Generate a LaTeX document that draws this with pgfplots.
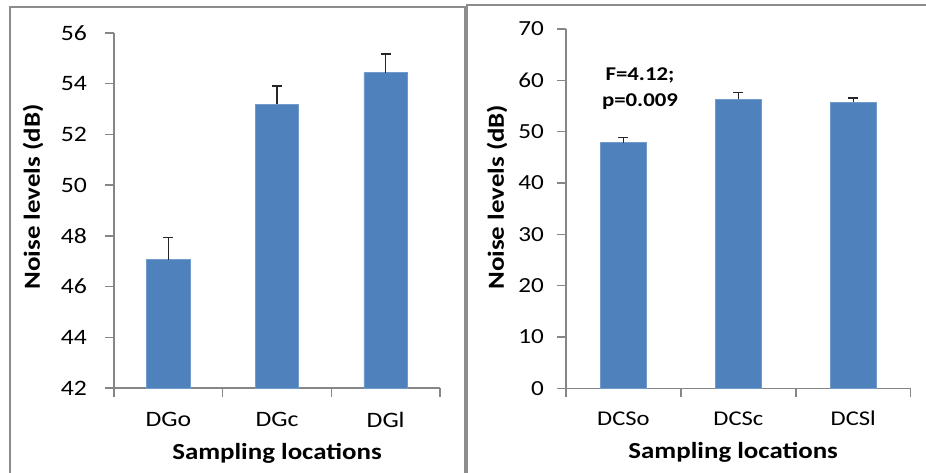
\documentclass[border=0pt]{standalone}
\usepackage{pgfplots}
\pgfplotsset{compat=1.18}
\usepackage{fontspec}
\setmainfont{Carlito}[FakeStretch=1.17]
\definecolor{barblue}{HTML}{4F81BD}
\definecolor{axisgray}{HTML}{868686}
\definecolor{framegray}{HTML}{8C8C8C}

\pgfplotsset{noiseaxis/.style={
  scale only axis, ybar, bar width=0.4,
  xmin=-0.5, xmax=2.5, enlargelimits=false,
  axis x line*=bottom, axis y line*=left,
  axis line style={draw=axisgray, line width=0.7pt},
  tick style={draw=axisgray, line width=0.7pt},
  tick align=outside, major tick length=4.5pt,
  xtick={-0.5,0.5,1.5,2.5}, xticklabels={},
  extra x ticks={0,1,2},
  /pgf/number format/assume math mode=true,
  label style={font=\bfseries\fontsize{11.5}{13}\selectfont},
  ylabel={Noise levels (dB)}, xlabel={Sampling locations},
  error bars/y dir=plus, error bars/y explicit,
  error bars/error bar style={line width=0.75pt, black!85},
  error bars/error mark options={rotate=90, mark size=2.5pt, line width=0.75pt, black!85},
}}

\begin{document}
\begin{tikzpicture}
\path[use as bounding box] (0,0) rectangle (463pt,-236pt);
\clip (0,0) rectangle (463pt,-236pt);
% panel frames
\draw[framegray, line width=0.6pt] (5pt,-240pt) -- (5pt,-3.5pt) -- (232.5pt,-3.5pt) -- (232.5pt,-240pt);
\draw[framegray, line width=0.6pt] (233.5pt,-240pt) -- (233.5pt,-2.5pt) -- (470pt,-2.5pt);

% left panel
\begin{axis}[noiseaxis,
  at={(57pt,-194pt)}, anchor=south west,
  width=163pt, height=177.5pt,
  ymin=42, ymax=56, ytick={42,44,...,56},
  yticklabel style={xshift=-5.5pt, font=\fontsize{11}{12}\selectfont},
  extra x tick labels={DGo,DGc,DGl},
  extra x tick style={major tick length=0pt, tick label style={yshift=-8.5pt, font=\fontsize{11}{13}\selectfont}},
  ylabel style={at={(axis description cs:-0.248,0.538)}, anchor=center},
  xlabel style={at={(axis description cs:0.5,-0.183)}, anchor=center},
  ]
\addplot[fill=barblue, draw=barblue!80!white] coordinates {
  (0,47.06) +- (0,0.87)
  (1,53.19) +- (0,0.72)
  (2,54.43) +- (0,0.74)
};
\end{axis}

% right panel
\begin{axis}[noiseaxis,
  at={(283pt,-194.15pt)}, anchor=south west,
  width=172.35pt, height=179.65pt,
  ymin=0, ymax=70, ytick={0,10,...,70},
  yticklabel style={xshift=-3pt, font=\fontsize{10.75}{12}\selectfont},
  extra x tick labels={DCSo,DCSc,DCSl},
  extra x tick style={major tick length=0pt, tick label style={yshift=-8pt, font=\fontsize{10.5}{12}\selectfont}},
  ylabel style={at={(axis description cs:-0.200,0.532)}, anchor=center},
  xlabel style={at={(axis description cs:0.485,-0.178)}, anchor=center},
  ]
\addplot[fill=barblue, draw=barblue!80!white] coordinates {
  (0,47.87) +- (0,0.98)
  (1,56.33) +- (0,1.27)
  (2,55.70) +- (0,0.90)
};
\node[font=\bfseries\fontsize{9.75}{12.85}\selectfont, align=center] at (axis cs:0.144,58.4) {F=4.12;\\p=0.009};
\end{axis}
\end{tikzpicture}
\end{document}
